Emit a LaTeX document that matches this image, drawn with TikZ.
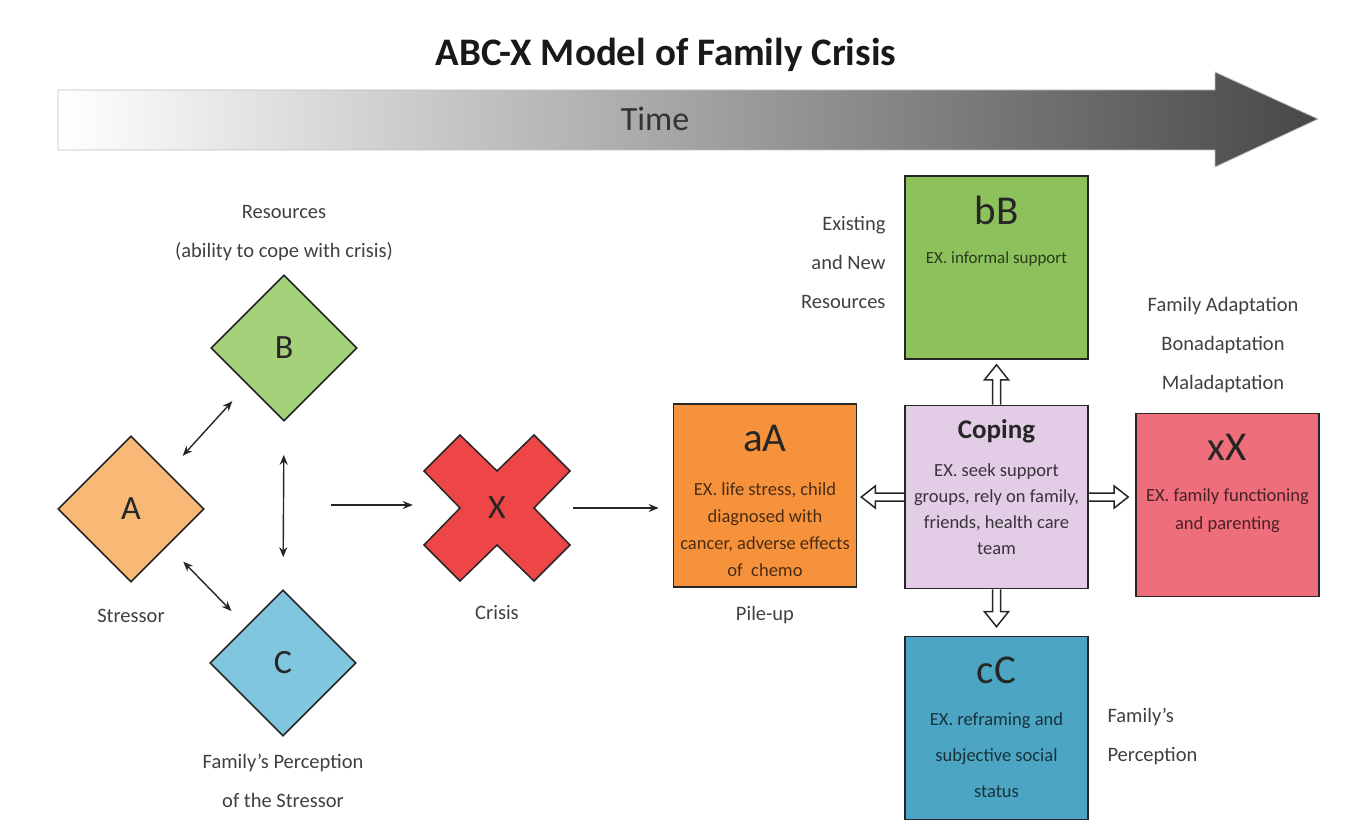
\documentclass[tikz,border=0pt]{standalone}
\usepackage{fontspec}
\setmainfont{Carlito}
\usetikzlibrary{shapes.geometric,arrows.meta,positioning}

\definecolor{stressorfill}{HTML}{F8B977}
\definecolor{resourcefill}{HTML}{A5D17B}
\definecolor{perceptfill}{HTML}{7FC6DE}
\definecolor{crisisfill}{HTML}{EE4646}
\definecolor{pileupfill}{HTML}{F7923C}
\definecolor{existfill}{HTML}{8CC15C}
\definecolor{copingfill}{HTML}{E2CCE6}
\definecolor{adaptfill}{HTML}{EF6E7B}
\definecolor{reframefill}{HTML}{4CA6C3}

\begin{document}
\begin{tikzpicture}[x=1pt,y=-1pt,
		>={Stealth[length=10pt,width=8pt]},
		diam/.style={diamond, draw=black!85, line width=1.6pt, minimum width=146pt, minimum height=146pt, inner sep=0pt, font=\fontsize{34}{36}\selectfont, text=black!85},
		box/.style={draw=black!85, line width=1.6pt, minimum width=183pt, minimum height=183pt, inner sep=0pt},
		lbl/.style={font=\fontsize{20.5}{39}\selectfont, text=black!75, align=center},
		big/.style={font=\fontsize{41}{43}\selectfont, text=black!85},
		body/.style={align=center, inner sep=0pt},
		link/.style={line width=1.4pt, draw=black!85},
		hollow/.style={draw=black!85, line width=1.5pt, line join=miter}
	]
	\useasboundingbox (0,0) rectangle (1353,821);

	% title and time axis
	\node[font=\bfseries\fontsize{39}{41}\selectfont, text=black!90] (title) at (666,55) {ABC-X Model of Family Crisis};
	\shade[left color=white, middle color=black!30, right color=black!72, draw=black!25, line width=0.8pt]
		(58,90) -- (1215,90) -- (1215,72) -- (1318,119) -- (1215,167) -- (1215,150) -- (58,150) -- cycle;
	\node[font=\fontsize{34}{36}\selectfont, text=black!80] (time) at (655,119) {Time};

	% A, B, C
	\node[diam, fill=stressorfill] (A) at (131,509) {A};
	\node[diam, fill=resourcefill] (B) at (284,348) {B};
	\node[diam, fill=perceptfill] (C) at (283,663) {C};
	\node[lbl] (res) at (284,233) {Resources\\(ability to cope with crisis)};
	\node[lbl] (stressor) at (131,616) {Stressor};
	\node[lbl] (percep) at (283,781) {Family's Perception\\of the Stressor};

	\draw[link, <->, shorten <=22pt, shorten >=22pt] (A.north east) -- (B.south west);
	\draw[link, <->, shorten <=22pt, shorten >=21pt] (A.south east) -- (C.north west);
	\draw[link, <->, shorten <=33pt, shorten >=32pt] (B.south) -- (C.north);

	% crisis
	\filldraw[fill=crisisfill, draw=black!85, line width=1.5pt, shift={(497,508)}]
		(-37,-73) -- (0,-37) -- (37,-73) -- (73,-37) -- (37,0) -- (73,37)
		-- (37,73) -- (0,37) -- (-37,73) -- (-73,37) -- (-37,0) -- (-73,-37) -- cycle;
	\node[minimum size=146pt, inner sep=0pt, font=\fontsize{34}{36}\selectfont, text=black!85] (X) at (497,508) {X};
	\node[lbl] (crisis) at (497,613) {Crisis};
	\coordinate (split) at (331,505);
	\draw[link, ->, shorten >=11pt] (split) -- (split -| X.west);

	% pile-up
	\node[box, fill=pileupfill] (aA) at (765,495.5) {};
	\node[big] at ([yshift=-35pt]aA.north) {aA};
	\node[body, font=\fontsize{18.5}{27}\selectfont, text=pileupfill!30!black] at ([yshift=-126pt]aA.north)
		{EX. life stress, child\\diagnosed with\\cancer, adverse effects\\of~ chemo};
	\node[lbl] (pile) at (765,615) {Pile-up};
	\draw[link, ->, shorten <=3pt, shorten >=14pt] (X.east) -- (X.east -| aA.west);

	% coping and its outcomes
	\node[box, fill=copingfill] (coping) at (996.5,497) {};
	\node[font=\bfseries\fontsize{27}{29}\selectfont, text=black!85] at ([yshift=-27pt]coping.north) {Coping};
	\node[body, font=\fontsize{18.5}{26}\selectfont, text=copingfill!25!black] at ([yshift=-104pt]coping.north)
		{EX. seek support\\groups, rely on family,\\friends, health care\\team};

	\node[box, fill=existfill] (bB) at (996.5,267.5) {};
	\node[big] at ([yshift=-35pt]bB.north) {bB};
	\node[body, font=\fontsize{17}{19}\selectfont, text=existfill!30!black] at ([yshift=-84pt]bB.north) {EX. informal support};
	\node[lbl, align=right, anchor=east] (exist) at (889,262) {Existing\\and New\\Resources};

	\node[box, fill=adaptfill] (xX) at (1227.5,505) {};
	\node[big] at ([yshift=-35pt]xX.north) {xX};
	\node[body, font=\fontsize{18.5}{28}\selectfont, text=adaptfill!30!black] at ([yshift=-98pt]xX.north)
		{EX. family functioning\\and parenting};
	\node[lbl] (adapt) at (1223,345) {Family Adaptation\\Bonadaptation\\Maladaptation};

	\node[box, fill=reframefill] (cC) at (996.5,728) {};
	\node[big] at ([yshift=-35pt]cC.north) {cC};
	\node[body, font=\fontsize{18.5}{36}\selectfont, text=reframefill!30!black] at ([yshift=-119pt]cC.north)
		{EX. reframing and\\subjective social\\status};
	\node[lbl, align=left, anchor=west] (famper) at (1104,736) {Family's\\Perception};

	% hollow arrows out of coping
	\coordinate (uptip) at ([yshift=-5pt]bB.south);
	\coordinate (downtip) at ([yshift=9pt]cC.north);
	\coordinate (lefttip) at ([xshift=4pt]coping.west -| aA.east);
	\coordinate (righttip) at ([xshift=-7pt]coping.east -| xX.west);
	\draw[hollow] ([xshift=-4pt]coping.north) -- ([xshift=-4pt,yshift=-15pt]uptip) -- ([xshift=-12pt,yshift=-15pt]uptip)
		-- (uptip) -- ([xshift=12pt,yshift=-15pt]uptip) -- ([xshift=4pt,yshift=-15pt]uptip) -- ([xshift=4pt]coping.north);
	\draw[hollow] ([xshift=-4pt]coping.south) -- ([xshift=-4pt,yshift=15pt]downtip) -- ([xshift=-12pt,yshift=15pt]downtip)
		-- (downtip) -- ([xshift=12pt,yshift=15pt]downtip) -- ([xshift=4pt,yshift=15pt]downtip) -- ([xshift=4pt]coping.south);
	\draw[hollow] ([yshift=4pt]coping.west) -- ([xshift=14pt,yshift=4pt]lefttip) -- ([xshift=14pt,yshift=11pt]lefttip)
		-- (lefttip) -- ([xshift=14pt,yshift=-11pt]lefttip) -- ([xshift=14pt,yshift=-4pt]lefttip) -- ([yshift=-4pt]coping.west);
	\draw[hollow] ([yshift=4pt]coping.east) -- ([xshift=-14pt,yshift=4pt]righttip) -- ([xshift=-14pt,yshift=11pt]righttip)
		-- (righttip) -- ([xshift=-14pt,yshift=-11pt]righttip) -- ([xshift=-14pt,yshift=-4pt]righttip) -- ([yshift=-4pt]coping.east);
\end{tikzpicture}
\end{document}
